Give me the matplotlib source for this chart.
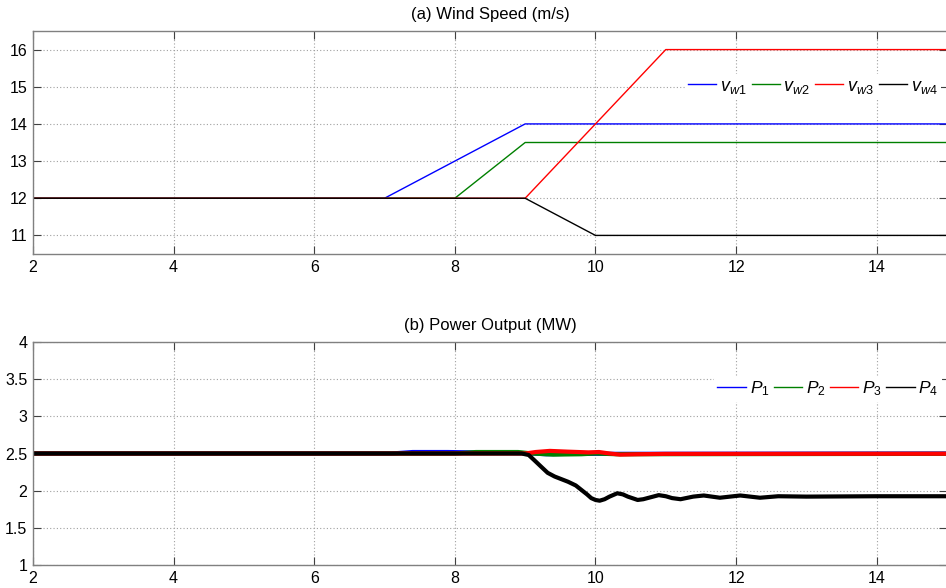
import numpy as np
import matplotlib
matplotlib.use("Agg")
import matplotlib.pyplot as plt

plt.rcParams['font.family'] = ['Liberation Sans', 'DejaVu Sans']
plt.rcParams['mathtext.fontset'] = 'custom'
plt.rcParams['mathtext.rm'] = 'Liberation Sans'
plt.rcParams['mathtext.it'] = 'Liberation Sans:italic'

# wind speed profiles (m/s), breakpoints in seconds
t_w1 = [2, 7, 9, 15]
v_w1 = [12, 12, 14, 14]
t_w2 = [2, 8, 9, 15]
v_w2 = [12, 12, 13.5, 13.5]
t_w3 = [2, 9, 11, 15]
v_w3 = [12, 12, 16, 16]
t_w4 = [2, 9, 10, 15]
v_w4 = [12, 12, 11, 11]

# power output of each turbine (MW)
t_p1 = [2, 7.1, 7.4, 7.9, 9.0, 9.3, 9.6, 15]
p1 = [2.5, 2.5, 2.52, 2.52, 2.505, 2.49, 2.495, 2.5]
t_p2 = [2, 8.0, 8.3, 8.9, 9.1, 9.4, 9.8, 10.0, 10.3, 15]
p2 = [2.5, 2.5, 2.52, 2.52, 2.5, 2.485, 2.49, 2.5, 2.49, 2.495]
t_p3 = [2, 9.0, 9.15, 9.35, 9.6, 9.9, 10.05, 10.2, 10.35, 10.6, 11.0, 15]
p3 = [2.5, 2.5, 2.52, 2.535, 2.525, 2.515, 2.52, 2.5, 2.485, 2.49, 2.495, 2.497]
t_p4 = [2, 8.95, 9.05, 9.13, 9.23, 9.32, 9.42, 9.61, 9.72, 9.80, 9.88, 9.94,
        10.0, 10.06, 10.13, 10.20, 10.31, 10.39, 10.46, 10.60, 10.68, 10.76,
        10.90, 11.0, 11.09, 11.21, 11.39, 11.54, 11.77, 12.06, 12.34,
        12.6, 13.0, 14.0, 15.0]
p4 = [2.5, 2.5, 2.48, 2.41, 2.32, 2.24, 2.19, 2.12, 2.07, 2.01, 1.95, 1.90,
      1.875, 1.865, 1.885, 1.92, 1.965, 1.95, 1.92, 1.875, 1.885, 1.905,
      1.94, 1.925, 1.90, 1.885, 1.92, 1.935, 1.905, 1.935, 1.905,
      1.925, 1.92, 1.925, 1.925]

colors = ['#0000ff', '#008000', '#ff0000', '#000000']

fig = plt.figure(figsize=(9.46, 5.88), dpi=100)
W, H = 946.0, 588.0
# x=2 at px 33, x=15 at px 947 (right spine sits just past the edge)
ax1 = fig.add_axes([33 / W, 1 - 254 / H, 914 / W, 223 / H])
ax2 = fig.add_axes([33 / W, 1 - 565 / H, 914 / W, 223 / H])


def style(ax):
    for s in ax.spines.values():
        s.set_color('#808080')
        s.set_linewidth(1.0)
    ax.tick_params(direction='in', length=6, width=0.8, color='#404040',
                   labelsize=11.5, top=True, right=True, pad=4)
    ax.grid(True, linestyle=(0, (1, 2)), color='#a0a0a0', linewidth=0.8)
    ax.set_axisbelow(True)
    ax.set_xlim(2, 15)
    ax.set_xticks(np.arange(2, 15, 2))


def clean_legend(leg):
    leg.get_frame().set_edgecolor('none')
    leg.get_frame().set_facecolor('white')
    leg.get_frame().set_alpha(1)


ax1.plot(t_w1, v_w1, color=colors[0], lw=1.0, label=r'$v_{w1}$')
ax1.plot(t_w2, v_w2, color=colors[1], lw=1.0, label=r'$v_{w2}$')
ax1.plot(t_w3, v_w3, color=colors[2], lw=1.0, label=r'$v_{w3}$')
ax1.plot(t_w4, v_w4, color=colors[3], lw=1.0, label=r'$v_{w4}$')
style(ax1)
ax1.set_ylim(10.5, 16.5)
ax1.set_yticks(range(11, 17))
ax1.set_title('(a) Wind Speed (m/s)', fontsize=12, pad=9)
leg1 = ax1.legend(loc='center left', bbox_to_anchor=(0.713, 0.75), ncol=4,
                  fontsize=13, handlelength=1.55, handletextpad=0.2,
                  columnspacing=0.3, borderaxespad=0, borderpad=0.2,
                  frameon=True)
clean_legend(leg1)

ax2.plot(t_p1, p1, color=colors[0], lw=3, label=r'$P_1$')
ax2.plot(t_p2, p2, color=colors[1], lw=3, label=r'$P_2$')
ax2.plot(t_p3, p3, color=colors[2], lw=3, label=r'$P_3$')
ax2.plot(t_p4, p4, color=colors[3], lw=3, label=r'$P_4$')
style(ax2)
ax2.set_ylim(1, 4)
ax2.set_yticks(np.arange(1, 4.01, 0.5))
ax2.set_yticklabels(['1', '1.5', '2', '2.5', '3', '3.5', '4'])
ax2.set_title('(b) Power Output (MW)', fontsize=12, pad=9)
leg2 = ax2.legend(loc='center left', bbox_to_anchor=(0.745, 0.79), ncol=4,
                  fontsize=12.5, handlelength=1.65, handletextpad=0.2,
                  columnspacing=0.25, borderaxespad=0, borderpad=0.2,
                  frameon=True)
for lh in leg2.get_lines():
    lh.set_linewidth(1.0)
clean_legend(leg2)

fig.savefig('out.png', dpi=100)
